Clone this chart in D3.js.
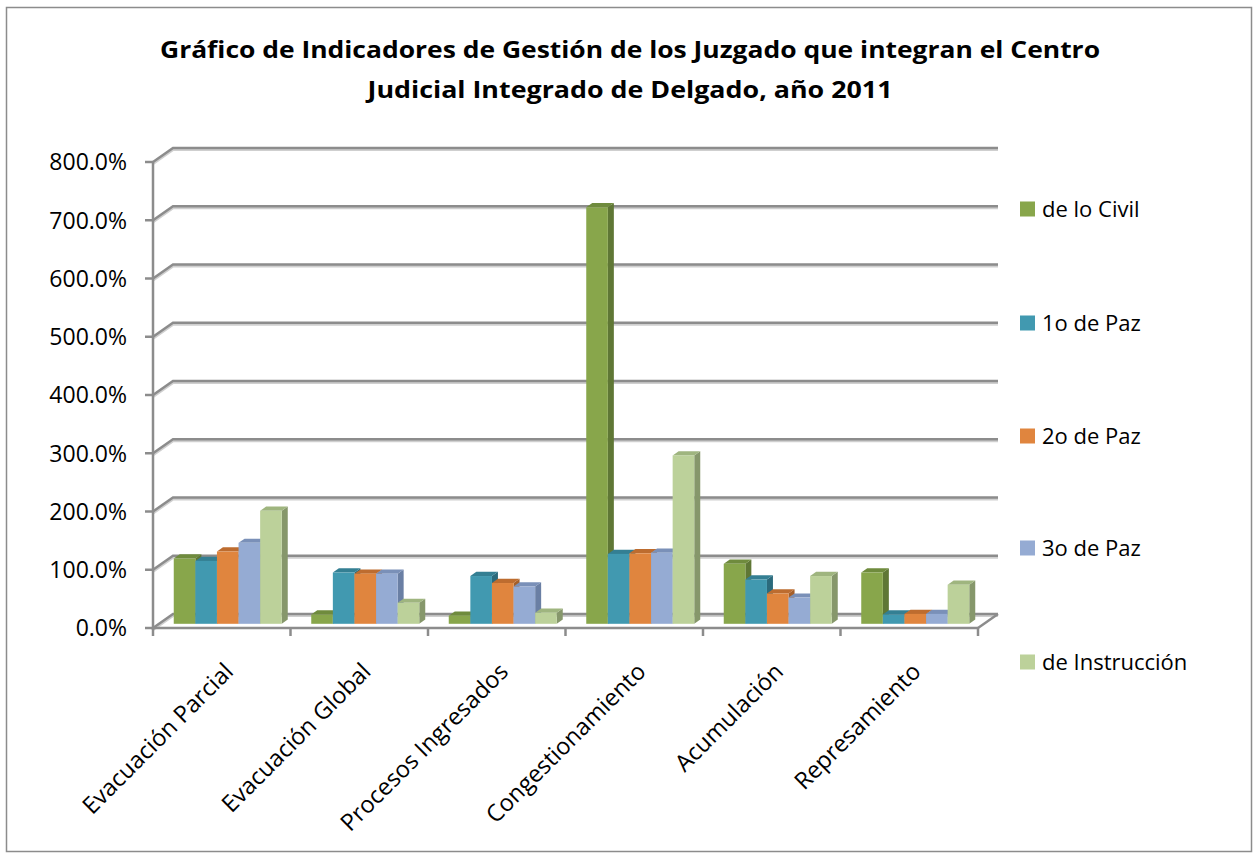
<!DOCTYPE html>
<html>
<head>
<meta charset="utf-8">
<script src="https://cdn.jsdelivr.net/npm/d3@7"></script>
<style>
  html, body { margin: 0; padding: 0; background: #ffffff; }
  svg { display: block; }
  text { font-family: "Open Sans", "Noto Sans", sans-serif; fill: #000; }
</style>
</head>
<body>
<svg id="chart" width="1259" height="858"></svg>
<script>
// Indicator categories (x axis)
const categories = ["Evacuación Parcial", "Evacuación Global", "Procesos Ingresados",
                    "Congestionamiento", "Acumulación", "Represamiento"];
// Courts (series)
const seriesNames = ["de lo Civil", "1o de Paz", "2o de Paz", "3o de Paz", "de Instrucción"];
// Values in percent, one array per court, ordered like categories
const civil      = [112, 16, 14, 715, 103, 88];
const paz1       = [108, 88, 82, 120,  76, 16];
const paz2       = [124, 86, 70, 121,  52, 17];
const paz3       = [139, 86, 64, 122,  45, 17];
const instruccion= [194, 36, 19, 289,  82, 67];
const seriesValues = [civil, paz1, paz2, paz3, instruccion];
// Value axis ticks
const yTicks = [0, 100, 200, 300, 400, 500, 600, 700, 800];
const titleLines = ["Gráfico de Indicadores de Gestión de los Juzgado que integran el Centro",
                    "Judicial Integrado de Delgado, año 2011"];

// Face colours for each series: front, side, top
const palette = [
  { front: "#88a64b", side: "#5f7735", top: "#6f8b3d" },
  { front: "#4199b0", side: "#2b6a7c", top: "#347f93" },
  { front: "#e0853e", side: "#a55f29", top: "#bd6c2f" },
  { front: "#95abd3", side: "#6a7fa4", top: "#7a90b8" },
  { front: "#bcd19a", side: "#86976b", top: "#9fb57f" }
];

const svg = d3.select("#chart");

// outer frame
svg.append("rect")
  .attr("x", 6.5).attr("y", 7.5).attr("width", 1245).attr("height", 844)
  .attr("fill", "#fff").attr("stroke", "#8c8c8c").attr("stroke-width", 1.5);

// title
svg.append("g").selectAll("text").data(titleLines).join("text")
  .attr("x", 630).attr("y", (d, i) => 58 + i * 40)
  .attr("text-anchor", "middle")
  .attr("font-weight", "bold").attr("font-size", 24)
  .attr("textLength", (d, i) => i === 0 ? 940 : 525)
  .attr("lengthAdjust", "spacingAndGlyphs")
  .text(d => d);

// scales (front plane of the plot box)
const y = d3.scaleLinear().domain([0, 800]).range([628, 162]);
const x = d3.scaleBand().domain(categories).range([153, 978]);
const pad = 14.75;
const xs = d3.scaleBand().domain(seriesNames)
  .range([pad, x.bandwidth() - pad]);

// depth offsets: back wall, and the front / back of the bars
const back = { dx: 20, dy: -14 };
const barFront = { dx: back.dx * 0.3, dy: back.dy * 0.3 };
const barBack  = { dx: back.dx * 0.6, dy: back.dy * 0.6 };

const grid = svg.append("g");
const xL = x.range()[0], xR = x.range()[1];
// gridlines on side + back wall
yTicks.forEach(t => {
  const yf = y(t), yb = y(t) + back.dy;
  const pts = [[xL, yf], [xL + back.dx, yb], [xR + back.dx, yb]];
  grid.append("path")
    .attr("d", d3.line()(pts.map(p => [p[0], p[1] + 1.5])))
    .attr("fill", "none").attr("stroke", "#cfcfcf").attr("stroke-width", 3);
  grid.append("path")
    .attr("d", d3.line()(pts))
    .attr("fill", "none").attr("stroke", "#8c8c8c").attr("stroke-width", 2.5);
});
// floor right edge
grid.append("path")
  .attr("d", d3.line()([[xR, y(0)], [xR + back.dx, y(0) + back.dy]]))
  .attr("fill", "none").attr("stroke", "#8c8c8c").attr("stroke-width", 2.5);

// bars
const bars = svg.append("g");
categories.forEach((cat, ci) => {
  seriesNames.forEach((s, si) => {
    const v = seriesValues[si][ci];
    const x0 = x(cat) + xs(s) + barFront.dx;
    const w = xs.bandwidth();
    const yTop = y(v) + barFront.dy;
    const yBot = y(0) + barFront.dy;
    const ddx = barBack.dx - barFront.dx, ddy = barBack.dy - barFront.dy;
    const c = palette[si];
    // side face
    bars.append("path")
      .attr("d", d3.line()([[x0 + w, yTop], [x0 + w + ddx, yTop + ddy],
                            [x0 + w + ddx, yBot + ddy], [x0 + w, yBot]]) + "Z")
      .attr("fill", c.side);
    // top face
    bars.append("path")
      .attr("d", d3.line()([[x0, yTop], [x0 + ddx, yTop + ddy],
                            [x0 + w + ddx, yTop + ddy], [x0 + w, yTop]]) + "Z")
      .attr("fill", c.top);
    // front face
    bars.append("rect")
      .attr("x", x0).attr("y", yTop).attr("width", w).attr("height", yBot - yTop)
      .attr("fill", c.front);
  });
});

// value axis (front left edge)
const axisG = svg.append("g");
axisG.append("line")
  .attr("x1", xL).attr("x2", xL).attr("y1", y(800)).attr("y2", y(0) + 2)
  .attr("stroke", "#8c8c8c").attr("stroke-width", 2.5);
axisG.selectAll(".ytick").data(yTicks).join("line")
  .attr("x1", xL - 8).attr("x2", xL).attr("y1", d => y(d)).attr("y2", d => y(d))
  .attr("stroke", "#8c8c8c").attr("stroke-width", 2.5);
axisG.selectAll(".ylab").data(yTicks).join("text")
  .attr("x", 127).attr("y", d => y(d)).attr("dy", "0.36em")
  .attr("text-anchor", "end").attr("font-size", 23)
  .text(d => d3.format(".1f")(d) + "%");

// category axis (front bottom edge)
axisG.append("line")
  .attr("x1", xL).attr("x2", xR).attr("y1", y(0)).attr("y2", y(0))
  .attr("stroke", "#8c8c8c").attr("stroke-width", 2.5);
const bounds = categories.map(c => x(c)).concat([xR]);
axisG.selectAll(".xtick").data(bounds).join("line")
  .attr("x1", d => d).attr("x2", d => d).attr("y1", y(0)).attr("y2", y(0) + 8)
  .attr("stroke", "#8c8c8c").attr("stroke-width", 2.5);
axisG.selectAll(".xlab").data(categories).join("text")
  .attr("transform", d => `translate(${x(d) + x.bandwidth() / 2 + 13},${y(0) + 45}) rotate(-45)`)
  .attr("text-anchor", "end").attr("font-size", 23.5)
  .text(d => d);

// legend
const legend = svg.append("g");
const legendY = [209, 323, 436, 548, 662];
seriesNames.forEach((s, i) => {
  legend.append("rect")
    .attr("x", 1020).attr("y", legendY[i] - 7.5).attr("width", 15).attr("height", 15)
    .attr("fill", palette[i].front);
  legend.append("text")
    .attr("x", 1042).attr("y", legendY[i]).attr("dy", "0.36em")
    .attr("font-size", 22)
    .text(s);
});
</script>
</body>
</html>
